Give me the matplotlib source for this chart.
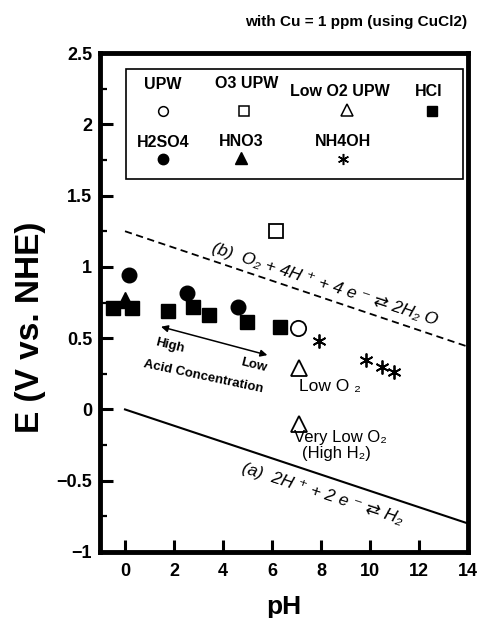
import matplotlib
matplotlib.use('Agg')
import matplotlib.pyplot as plt
from matplotlib.patches import Rectangle

plt.rcParams['font.family'] = ['Liberation Sans', 'DejaVu Sans']

# measured points (pH, E vs NHE)
hcl_ph = [-0.48, 0.27, 1.77, 2.76, 3.44, 4.97, 6.33]
hcl_e = [0.71, 0.71, 0.69, 0.72, 0.66, 0.61, 0.58]
h2so4_ph = [0.16, 2.54, 4.60]
h2so4_e = [0.94, 0.82, 0.72]
hno3_ph = [0.0]
hno3_e = [0.77]
upw_ph = [7.07]
upw_e = [0.57]
o3_ph = [6.15]
o3_e = [1.25]
lowo2_ph = [7.1, 7.1]
lowo2_e = [0.29, -0.10]
nh4oh_ph = [7.92, 9.82, 10.48, 10.98]
nh4oh_e = [0.48, 0.35, 0.30, 0.26]

# equilibrium lines
line_a_ph = [0, 14]
line_a_e = [0.0, -0.80]
line_b_ph = [0, 14]
line_b_e = [1.25, 0.44]

fig = plt.figure(figsize=(4.82, 6.18), dpi=100)
ax = fig.add_axes([0.2085, 0.1068, 0.7625, 0.8074])

ax.plot(line_a_ph, line_a_e, color='k', lw=1.5)
ax.plot(line_b_ph, line_b_e, color='k', lw=1.3, ls=(0, (4, 2.5)))

ax.plot(hcl_ph, hcl_e, 's', color='k', ms=10)
ax.plot(h2so4_ph, h2so4_e, 'o', color='k', ms=10.5)
ax.plot(hno3_ph, hno3_e, '^', color='k', ms=11)
ax.plot(upw_ph, upw_e, 'o', mfc='white', mec='k', mew=1.3, ms=11)
ax.plot(o3_ph, o3_e, 's', mfc='white', mec='k', mew=1.3, ms=10)
ax.plot(lowo2_ph, lowo2_e, '^', mfc='white', mec='k', mew=1.3, ms=12)
ax.plot(nh4oh_ph, nh4oh_e, marker=(6, 2, 0), ls='none', color='k', mew=1.3, ms=10)

# legend box drawn by hand (labels above symbols)
ax.add_patch(Rectangle((0.069, 0.747), 0.917, 0.221, transform=ax.transAxes,
                       fill=False, lw=1.2, ec='k'))
lkw = dict(transform=ax.transAxes, ha='center', va='center', fontsize=11.5, fontweight='bold')
ax.text(0.17, 0.937, 'UPW', **lkw)
ax.text(0.398, 0.938, 'O3 UPW', **lkw)
ax.text(0.65, 0.923, 'Low O2 UPW', **lkw)
ax.text(0.892, 0.923, 'HCl', **lkw)
ax.text(0.171, 0.821, 'H2SO4', **lkw)
ax.text(0.384, 0.823, 'HNO3', **lkw)
ax.text(0.66, 0.823, 'NH4OH', **lkw)
mkw = dict(transform=ax.transAxes, color='k', ls='none')
ax.plot([0.17], [0.883], 'o', mfc='white', mec='k', mew=1.1, ms=7, transform=ax.transAxes)
ax.plot([0.39], [0.883], 's', mfc='white', mec='k', mew=1.1, ms=7, transform=ax.transAxes)
ax.plot([0.67], [0.886], '^', mfc='white', mec='k', mew=1.1, ms=8, transform=ax.transAxes)
ax.plot([0.901], [0.883], 's', ms=7, **mkw)
ax.plot([0.171], [0.787], 'o', ms=7.5, **mkw)
ax.plot([0.381], [0.789], '^', ms=8.5, **mkw)
ax.plot([0.659], [0.787], marker=(6, 2, 0), ms=8, mew=1.1, **mkw)

# annotations
ax.text(8.16, 0.88, '(b)  O₂ + 4H ⁺ + 4 e ⁻ ⇄ 2H₂ O', rotation=-18, ha='center', va='center',
        fontsize=12.5, style='italic', rotation_mode='anchor')
ax.text(8.04, -0.59, '(a)  2H ⁺ + 2 e ⁻ ⇄ H₂', rotation=-18, ha='center', va='center',
        fontsize=12.5, style='italic', rotation_mode='anchor')
ax.annotate('', xy=(1.36, 0.585), xytext=(5.92, 0.376),
            arrowprops=dict(arrowstyle='<|-|>', color='k', lw=1.1, mutation_scale=10))
ax.text(1.84, 0.45, 'High', rotation=-14, ha='center', va='center', fontsize=9.5, fontweight='bold')
ax.text(5.24, 0.31, 'Low', rotation=-14, ha='center', va='center', fontsize=9.5, fontweight='bold')
ax.text(3.2, 0.23, 'Acid Concentration', rotation=-12, ha='center', va='center',
        fontsize=9.5, fontweight='bold')
ax.text(8.37, 0.16, 'Low O ₂', ha='center', va='center', fontsize=12.5)
ax.text(8.78, -0.2, 'Very Low O₂', ha='center', va='center', fontsize=12)
ax.text(8.64, -0.31, '(High H₂)', ha='center', va='center', fontsize=12)

ax.set_xlim(-1, 14)
ax.set_ylim(-1, 2.5)
ax.set_xticks(range(0, 15, 2))
ax.set_yticks([-1, -0.5, 0, 0.5, 1, 1.5, 2, 2.5])
ax.set_yticklabels(['−1', '−0.5', '0', '0.5', '1', '1.5', '2', '2.5'])
ax.set_yticks([-0.75, -0.25, 0.25, 0.75, 1.25, 1.75, 2.25], minor=True)
ax.tick_params(axis='both', which='major', direction='in', length=9, width=2.2, labelsize=13)
ax.tick_params(axis='y', which='minor', direction='in', length=5, width=1.6)
ax.tick_params(axis='x', pad=8)
ax.tick_params(axis='y', pad=6)
for lab in ax.get_xticklabels() + ax.get_yticklabels():
    lab.set_fontweight('bold')
for s in ax.spines.values():
    s.set_linewidth(3.5)

ax.set_xlabel('pH', fontsize=19, fontweight='bold')
ax.set_ylabel('E (V vs. NHE)', fontsize=24, fontweight='bold')
ax.xaxis.set_label_coords(0.5, -0.086)
ax.yaxis.set_label_coords(-0.148, 0.45)

fig.text(0.739, 0.965, 'with Cu = 1 ppm (using CuCl2)', ha='center', va='center',
         fontsize=11, fontweight='bold')

fig.savefig('out.png', dpi=100)
